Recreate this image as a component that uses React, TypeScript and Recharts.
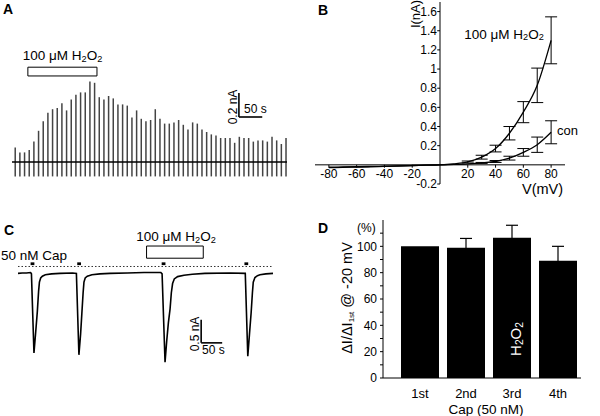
import React from 'react';
import {
  ComposedChart, LineChart, BarChart, Bar, Line, XAxis, YAxis,
  ReferenceLine, ReferenceArea, ReferenceDot, ErrorBar,
} from 'recharts';

const FONT = '"Liberation Sans", Arial, Helvetica, sans-serif';

// ---------- Panel A: peak currents of successive sweeps (nA) ----------
const sweepTimes = [0,10,20,30,40,50,60,70,80,90,100,110,120,130,140,150,160,170,180,190,200,210,220,230,240,250,260,270,280,290,300,310,320,330,340,350,360,370,380,390,400,410,420,430,440,450,460,470,480,490,500,510,520,530,540,550,560,570,580];
const sweepPeaks = [0.12,0.08,0.08,0.10,0.17,0.26,0.34,0.41,0.44,0.45,0.49,0.43,0.52,0.56,0.58,0.58,0.67,0.66,0.54,0.52,0.55,0.53,0.48,0.48,0.47,0.37,0.43,0.36,0.34,0.35,0.44,0.36,0.32,0.32,0.33,0.35,0.31,0.27,0.33,0.32,0.27,0.25,0.23,0.22,0.20,0.20,0.20,0.16,0.21,0.20,0.20,0.17,0.18,0.18,0.17,0.21,0.18,0.15,0.20];
const sweepTrough = -0.12;
const aH2O2Window = [28, 176];

// ---------- Panel B: I-V relation ----------
const vSteps = [-80,-70,-60,-50,-40,-30,-20,-10,0,10,20,30,40,50,60,70,80];
const h2o2Current = [-0.03,-0.027,-0.023,-0.02,-0.016,-0.012,-0.008,-0.004,0,0.01,0.03,0.08,0.17,0.33,0.55,0.83,1.3];
const h2o2Error = [0,0,0,0,0,0,0,0,0,0,0.01,0.02,0.035,0.07,0.11,0.18,0.245];
const conCurrent = [-0.025,-0.022,-0.02,-0.017,-0.014,-0.01,-0.007,-0.003,0,0.004,0.01,0.02,0.035,0.07,0.13,0.21,0.34];
const conError = [0,0,0,0,0,0,0,0,0,0,0,0.005,0.01,0.02,0.04,0.08,0.12];
const bTicksX = [-80,-60,-40,-20,20,40,60,80];
const bTicksY = [-0.2,0.2,0.4,0.6,0.8,1,1.2,1.4,1.6];

// ---------- Panel C: capsaicin-evoked current trace ----------
const cTime = [0,10,20,30,32,38,42,46,49,51,54,58,65,80,100,130,139,145,149,152,155,157,160,165,176,195,219,260,300,340,343,350,354,358,362,365,368,372,380,395,415,445,505,541,547,551,555,558,560,564,570,576,590,607];
const cCurrent = [-0.03,-0.02,-0.02,-0.01,-0.04,-1.76,-1.32,-0.86,-0.42,-0.22,-0.13,-0.09,-0.06,-0.04,-0.03,-0.02,-0.03,-1.80,-1.35,-0.90,-0.45,-0.22,-0.13,-0.09,-0.06,-0.04,-0.03,-0.02,-0.01,-0.01,-0.04,-1.96,-1.50,-1.10,-0.80,-0.45,-0.25,-0.15,-0.10,-0.07,-0.05,-0.03,-0.02,-0.03,-1.83,-1.35,-0.88,-0.45,-0.22,-0.12,-0.08,-0.06,-0.04,-0.03];
const capStarts = [30, 141, 342, 539];
const capDuration = 9;
const cH2O2Window = [306, 441];

// ---------- Panel D: normalized responses ----------
const dCategories = ['1st', '2nd', '3rd', '4th'];
const dValues = [100, 99, 106.5, 89];
const dErrors = [0, 7, 9.5, 11];
const dTicks = [0,10,20,30,40,50,60,70,80,90,100,110];

const aData = sweepTimes.map((t, i) => ({ t, range: [sweepTrough, sweepPeaks[i]] }));
const bData = vSteps.map((v, i) => ({ v, h2o2: h2o2Current[i], h2o2Err: h2o2Error[i], con: conCurrent[i], conErr: conError[i] }));
const cData = cTime.map((t, i) => ({ t, i: cCurrent[i] }));
const dData = dCategories.map((c, i) => ({ cat: c, val: dValues[i], err: dErrors[i] }));

const H2O2 = ({ size }: { size: number }) => {
  const s = size * 0.68;
  const d = size * 0.12;
  return (
    <>
      <tspan>H</tspan>
      <tspan fontSize={s} dy={d}>2</tspan>
      <tspan dy={-d}>O</tspan>
      <tspan fontSize={s} dy={d}>2</tspan>
      <tspan dy={-d}>{''}</tspan>
    </>
  );
};

const abs = (left: number, top: number): React.CSSProperties => ({ position: 'absolute', left, top });

export default function App() {
  return (
    <div style={{ position: 'absolute', left: 0, top: 0, width: 600, height: 416, background: '#fff', overflow: 'hidden', fontFamily: FONT }}>
      {/* Panel A */}
      <div style={abs(7, 55)}>
        <ComposedChart width={285} height={148} data={aData} margin={{ top: 5, right: 5, bottom: 5, left: 5 }}>
          <XAxis dataKey="t" type="number" domain={[-6, 583]} hide />
          <YAxis type="number" domain={[-0.3, 0.85]} hide />
          <Bar dataKey="range" fill="#444" barSize={1.5} isAnimationActive={false} />
          <ReferenceLine y={0} stroke="#000" strokeWidth={1.6} />
          <ReferenceArea x1={aH2O2Window[0]} x2={aH2O2Window[1]} y1={0.717} y2={0.79} fill="#fff" fillOpacity={1} stroke="#000" strokeWidth={1} />
          <ReferenceLine segment={[{ x: 480, y: 0.375 }, { x: 480, y: 0.575 }]} stroke="#000" strokeWidth={1.6} />
          <ReferenceLine segment={[{ x: 480, y: 0.375 }, { x: 530, y: 0.375 }]} stroke="#000" strokeWidth={1.6} />
        </ComposedChart>
      </div>

      {/* Panel B */}
      <div style={abs(305, 0)}>
        <LineChart width={270} height={194} data={bData} margin={{ top: 2, right: 10, bottom: 10, left: 10 }}>
          <XAxis dataKey="v" type="number" domain={[-90, 90]} hide />
          <YAxis type="number" domain={[-0.2, 1.7]} hide />
          <ReferenceLine y={0} stroke="#000" strokeWidth={1} />
          <ReferenceLine x={0} stroke="#000" strokeWidth={1} />
          {bTicksX.map((v) => (
            <ReferenceLine key={'tx' + v} segment={[{ x: v, y: 0 }, { x: v, y: -0.03 }]} stroke="#000" strokeWidth={1} />
          ))}
          {bTicksY.map((v) => (
            <ReferenceLine key={'ty' + v} segment={[{ x: -2, y: v }, { x: 0, y: v }]} stroke="#000" strokeWidth={1} />
          ))}
          {bTicksX.map((v) => (
            <ReferenceDot key={'lx' + v} x={v} y={0} r={0} fill="none" stroke="none"
              label={{ value: String(v), position: 'bottom', offset: 5, fill: '#000', fontSize: 12, fontFamily: FONT }} />
          ))}
          {bTicksY.map((v) => (
            <ReferenceDot key={'ly' + v} x={0} y={v} r={0} fill="none" stroke="none"
              label={{ value: String(v), position: 'left', offset: 3, fill: '#000', fontSize: 12, fontFamily: FONT }} />
          ))}
          <Line dataKey="h2o2" type="monotone" stroke="#000" strokeWidth={1.3} dot={false} isAnimationActive={false}>
            <ErrorBar dataKey="h2o2Err" width={6} stroke="#000" strokeWidth={1} direction="y" />
          </Line>
          <Line dataKey="con" type="monotone" stroke="#000" strokeWidth={1.3} dot={false} isAnimationActive={false}>
            <ErrorBar dataKey="conErr" width={6} stroke="#000" strokeWidth={1} direction="y" />
          </Line>
        </LineChart>
      </div>

      {/* Panel C */}
      <div style={abs(13, 235)}>
        <LineChart width={265} height={140} data={cData} margin={{ top: 5, right: 5, bottom: 5, left: 5 }}>
          <XAxis dataKey="t" type="number" domain={[0, 607]} hide />
          <YAxis type="number" domain={[-2.13, 0.696]} hide />
          <ReferenceLine y={0.12} stroke="#333" strokeWidth={1} strokeDasharray="1.5 2" />
          {capStarts.map((s) => (
            <ReferenceArea key={'cap' + s} x1={s} x2={s + capDuration} y1={0.15} y2={0.21} fill="#000" fillOpacity={1} stroke="none" />
          ))}
          <ReferenceArea x1={cH2O2Window[0]} x2={cH2O2Window[1]} y1={0.30} y2={0.565} fill="#fff" fillOpacity={1} stroke="#000" strokeWidth={1} />
          <ReferenceLine segment={[{ x: 436, y: -1.54 }, { x: 436, y: -1.04 }]} stroke="#000" strokeWidth={1.6} />
          <ReferenceLine segment={[{ x: 436, y: -1.54 }, { x: 486, y: -1.54 }]} stroke="#000" strokeWidth={1.6} />
          <Line dataKey="i" type="linear" stroke="#000" strokeWidth={1.6} dot={false} isAnimationActive={false} />
        </LineChart>
      </div>

      {/* Panel D */}
      <div style={abs(353, 215)}>
        <BarChart width={233} height={201} data={dData} margin={{ top: 5, right: 5, bottom: 0, left: 0 }}>
          <XAxis dataKey="cat" axisLine={{ stroke: '#000' }} tickLine={false} tickMargin={5} interval={0}
            tick={{ fill: '#000', fontSize: 13, fontFamily: FONT }} padding={{ left: 14, right: 0 }} height={38} />
          <YAxis type="number" domain={[0, 120]} ticks={dTicks} interval={0} width={30}
            axisLine={{ stroke: '#000' }} tickLine={{ stroke: '#000' }} tickSize={3} tickMargin={3}
            tickFormatter={(v: number) => (v % 20 === 0 ? String(v) : '')}
            tick={{ fill: '#000', fontSize: 12, fontFamily: FONT }} />
          <Bar dataKey="val" fill="#000" barSize={38} isAnimationActive={false}>
            <ErrorBar dataKey="err" width={6} stroke="#000" strokeWidth={1.2} direction="y" />
          </Bar>
        </BarChart>
      </div>

      {/* Text overlay */}
      <svg width={600} height={416} style={{ position: 'absolute', left: 0, top: 0, pointerEvents: 'none' }} fontFamily={FONT}>
        {/* A */}
        <text x={3} y={13.5} fontSize={14} fontWeight="bold">A</text>
        <text x={62.5} y={60} fontSize={13.5} textAnchor="middle">100 μM <H2O2 size={13.5} /></text>
        <text x={237} y={107} fontSize={12} textAnchor="middle" transform="rotate(-90 237 107)">0.2 nA</text>
        <text x={244} y={113} fontSize={12}>50 s</text>

        {/* B */}
        <text x={318} y={15} fontSize={14} fontWeight="bold">B</text>
        <text x={420} y={14} fontSize={13} textAnchor="middle" transform="rotate(-90 420 14)">I(nA)</text>
        <text x={504} y={38.5} fontSize={13.5} textAnchor="middle">100 μM <H2O2 size={13.5} /></text>
        <text x={557} y={135} fontSize={13}>con</text>
        <text x={522} y={193.5} fontSize={14.5}>V(mV)</text>

        {/* C */}
        <text x={4} y={235} fontSize={14} fontWeight="bold">C</text>
        <text x={1} y={259.5} fontSize={13.5}>50 nM Cap</text>
        <text x={176} y={241} fontSize={13.5} textAnchor="middle">100 μM <H2O2 size={13.5} /></text>
        <text x={198.5} y={334} fontSize={12} textAnchor="middle" transform="rotate(-90 198.5 334)">0.5 nA</text>
        <text x={202} y={354} fontSize={12}>50 s</text>

        {/* D */}
        <text x={318} y={233} fontSize={14} fontWeight="bold">D</text>
        <text x={357} y={232} fontSize={12}>(%)</text>
        <g transform="rotate(-90 352 298)">
          <text x={352} y={298} fontSize={14.5} textAnchor="middle">
            <tspan>ΔI/ΔI</tspan><tspan fontSize={8} dy={2}>1st</tspan><tspan dy={-2}> @ -20 mV</tspan>
          </text>
        </g>
        <text x={486} y={414} fontSize={13.5} textAnchor="middle">Cap (50 nM)</text>
        <text x={521} y={339} fontSize={15} fill="#fff" textAnchor="middle" transform="rotate(-90 521 339)"><H2O2 size={15} /></text>
      </svg>
    </div>
  );
}
